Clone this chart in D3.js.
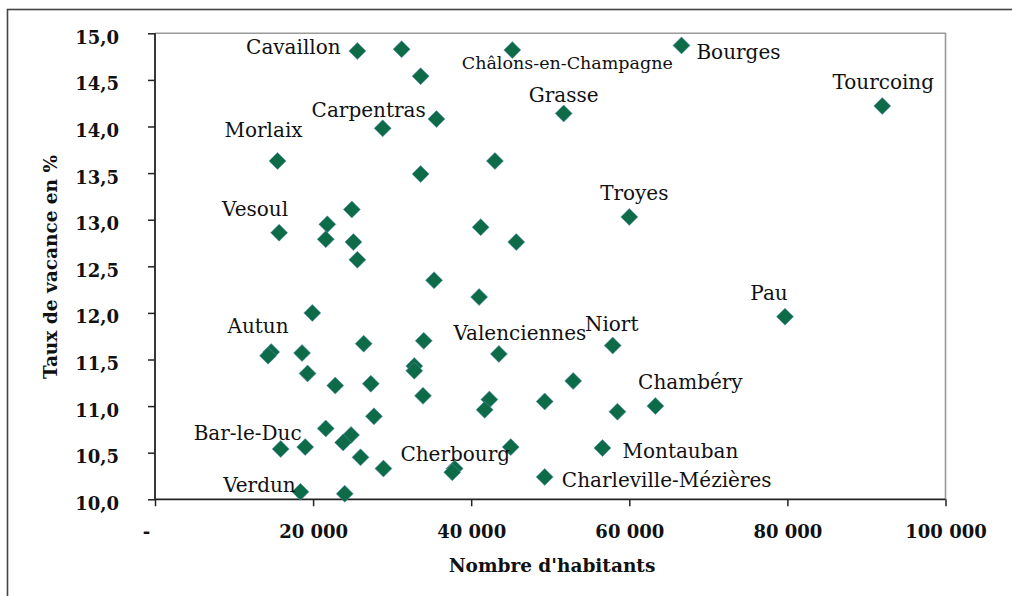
<!DOCTYPE html>
<html>
<head>
<meta charset="utf-8">
<script src="https://cdn.jsdelivr.net/npm/d3@7"></script>
<style>
  html, body { margin: 0; padding: 0; background: #fff; }
  svg { display: block; }
  .lbl { font-family: "DejaVu Serif", serif; fill: #111; }
  .tick text { font-family: "DejaVu Serif", serif; font-weight: bold; fill: #111; }
  .title { font-family: "DejaVu Serif", serif; font-weight: bold; fill: #111; }
</style>
</head>
<body>
<svg id="chart" width="1012" height="596"></svg>
<script>
// Population of each town (inhabitants)
const population = [
  25600, 31200, 33600, 45200, 66600, 92000, 51700, 35600, 28800, 15500,
  43000, 33600, 24900, 60000, 21800, 41200, 15700, 21600, 25100, 45700,
  25600, 35300, 41000, 19900, 79700, 34000, 26400, 57900, 14700, 14300,
  18600, 43500, 32800, 32800, 19300, 52900, 27300, 22800, 33900, 42300,
  41700, 49300, 63300, 58500, 27700, 21600, 24800, 23800, 15900, 19000,
  45000, 56600, 26000, 28900, 37900, 37600, 49300, 18400, 24000
];
// Housing vacancy rate (%)
const vacancy = [
  14.81, 14.83, 14.54, 14.82, 14.87, 14.22, 14.14, 14.08, 13.98, 13.63,
  13.63, 13.49, 13.11, 13.03, 12.95, 12.92, 12.86, 12.79, 12.76, 12.76,
  12.57, 12.35, 12.17, 12.00, 11.96, 11.70, 11.67, 11.65, 11.58, 11.54,
  11.57, 11.56, 11.43, 11.38, 11.35, 11.27, 11.24, 11.22, 11.11, 11.07,
  10.96, 11.05, 11.00, 10.94, 10.89, 10.76, 10.69, 10.61, 10.54, 10.56,
  10.56, 10.55, 10.45, 10.33, 10.33, 10.29, 10.24, 10.08, 10.06
];
// Town names (empty when the point carries no label)
const towns = [
  "Cavaillon", "", "", "Châlons-en-Champagne", "Bourges", "Tourcoing", "Grasse", "", "Carpentras", "Morlaix",
  "", "", "", "Troyes", "", "", "Vesoul", "", "", "",
  "", "", "", "", "Pau", "", "", "Niort", "", "Autun",
  "", "Valenciennes", "", "", "", "", "", "", "", "",
  "", "", "Chambéry", "", "", "", "", "", "Bar-le-Duc", "",
  "", "Montauban", "", "", "", "Cherbourg", "Charleville-Mézières", "Verdun", ""
];
// Axis ticks
const xTicks = [0, 20000, 40000, 60000, 80000, 100000];
const yTicks = [10, 10.5, 11, 11.5, 12, 12.5, 13, 13.5, 14, 14.5, 15];
const xTitle = "Nombre d'habitants";
const yTitle = "Taux de vacance en %";

// Label placement relative to its point (pixels), and optional font size
const labelLayout = {
  "Cavaillon": [-64, 3],
  "Châlons-en-Champagne": [55, 19, 17.5],
  "Bourges": [57, 14],
  "Tourcoing": [1, -17],
  "Grasse": [0, -11],
  "Carpentras": [-14, -11],
  "Morlaix": [-14, -24],
  "Vesoul": [-24, -17],
  "Troyes": [5, -17],
  "Pau": [-16, -17],
  "Autun": [-10, -23],
  "Valenciennes": [21, -14],
  "Niort": [-1, -15],
  "Chambéry": [35, -17],
  "Bar-le-Duc": [-33, -9],
  "Cherbourg": [3, -11],
  "Montauban": [78, 10],
  "Charleville-Mézières": [122, 10],
  "Verdun": [-41, 0]
};

const svg = d3.select("#chart");
const fr = d3.formatLocale({decimal: ",", thousands: " ", grouping: [3], currency: ["", " €"]});

const x = d3.scaleLinear().domain([0, 100000]).range([155, 945.5]);
const y = d3.scaleLinear().domain([10, 15]).range([499.3, 33.3]);

// Outer chart frame
svg.append("rect")
  .attr("x", 7.5).attr("y", 9.5).attr("width", 1100).attr("height", 700)
  .attr("fill", "none").attr("stroke", "#444").attr("stroke-width", 1.6);

// Plot area border (top and right)
svg.append("path")
  .attr("d", `M${x(0)},${y(15)}H${x(100000)}V${y(10)}`)
  .attr("fill", "none").attr("stroke", "#9a9a9a").attr("stroke-width", 1.6);

// Axes
const yAxis = d3.axisLeft(y).tickValues(yTicks).tickSize(7).tickPadding(29)
  .tickFormat(fr.format(".1f"));
const gy = svg.append("g").attr("transform", `translate(${x(0)},0)`).call(yAxis);

const xAxis = d3.axisBottom(x).tickValues(xTicks).tickSize(7).tickPadding(19)
  .tickFormat(d => d === 0 ? "-" : fr.format(",.0f")(d));
const gx = svg.append("g").attr("transform", `translate(0,${y(10)})`).call(xAxis);

[gx, gy].forEach(g => {
  g.select(".domain").attr("stroke", "#222").attr("stroke-width", 1.8);
  g.selectAll(".tick line").attr("stroke", "#222").attr("stroke-width", 1.5);
  g.selectAll(".tick text").attr("font-size", 18);
});
gy.selectAll(".tick text").attr("dy", "0.55em");
gx.selectAll(".tick text").filter(d => d === 0).attr("dx", -9);
gx.select(".domain").attr("d", `M${x(0)},0H${x(100000)}`);
gy.select(".domain").attr("d", `M0,${y(10)}V${y(15)}`);

// Axis titles
svg.append("text").attr("class", "title")
  .attr("x", 552).attr("y", 572).attr("text-anchor", "middle")
  .attr("font-size", 18.5).text(xTitle);
svg.append("text").attr("class", "title")
  .attr("transform", "translate(57,267) rotate(-90)")
  .attr("text-anchor", "middle").attr("font-size", 18.5).text(yTitle);

// Points
const points = population.map((p, i) => ({p, v: vacancy[i], name: towns[i]}));
const diamond = r => `M0,${-r}L${r},0L0,${r}L${-r},0Z`;

svg.append("g").selectAll("path").data(points).join("path")
  .attr("transform", d => `translate(${x(d.p)},${y(d.v)})`)
  .attr("d", diamond(8.5))
  .attr("fill", "#0d6b47")
  .attr("stroke", "#5d8fb4").attr("stroke-opacity", 0.55).attr("stroke-width", 1);

// Town labels
svg.append("g").selectAll("text").data(points.filter(d => d.name)).join("text")
  .attr("class", "lbl")
  .attr("x", d => x(d.p) + labelLayout[d.name][0])
  .attr("y", d => y(d.v) + labelLayout[d.name][1])
  .attr("text-anchor", "middle")
  .attr("font-size", d => labelLayout[d.name][2] || 20)
  .text(d => d.name);
</script>
</body>
</html>
